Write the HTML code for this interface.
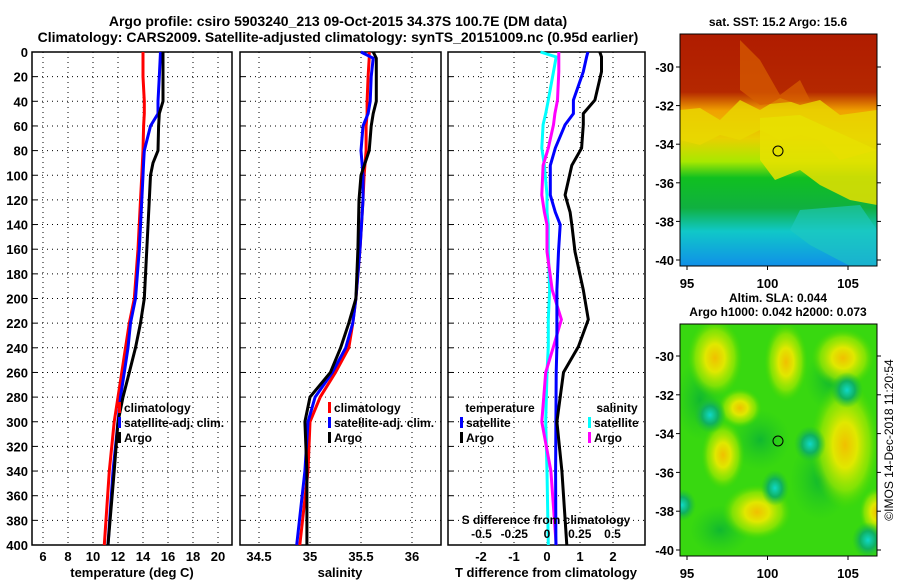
<!DOCTYPE html>
<html><head><meta charset="utf-8"><style>
body{margin:0;background:#fff;}
svg{display:block;font-family:"Liberation Sans",sans-serif;font-weight:bold;}
</style></head><body>
<svg id="c" width="900" height="580" viewBox="0 0 900 580">
<defs>
<linearGradient id="sstg" x1="0" y1="0" x2="0" y2="1">
<stop offset="0" stop-color="#b01c00"/><stop offset="0.25" stop-color="#b52800"/>
<stop offset="0.33" stop-color="#f0a000"/><stop offset="0.45" stop-color="#e8d000"/>
<stop offset="0.55" stop-color="#a8e800"/><stop offset="0.62" stop-color="#10c020"/>
<stop offset="0.75" stop-color="#10b040"/><stop offset="0.85" stop-color="#10c8c8"/>
<stop offset="1" stop-color="#1090e8"/></linearGradient>
<radialGradient id="yb"><stop offset="0" stop-color="#f0c000"/><stop offset="0.35" stop-color="#e0e800"/><stop offset="0.7" stop-color="#a0e800" stop-opacity="0.7"/><stop offset="1" stop-color="#40d800" stop-opacity="0"/></radialGradient>
<radialGradient id="tb"><stop offset="0" stop-color="#10d8c8"/><stop offset="0.5" stop-color="#10b060"/><stop offset="1" stop-color="#20c030" stop-opacity="0"/></radialGradient>
<radialGradient id="gb"><stop offset="0" stop-color="#10b830"/><stop offset="1" stop-color="#20c820" stop-opacity="0"/></radialGradient>
<clipPath id="m1c"><rect x="680" y="34" width="197" height="232"/></clipPath>
<clipPath id="m2c"><rect x="680" y="324" width="197" height="232"/></clipPath>
</defs>
<text x="338" y="26" font-size="14" text-anchor="middle">Argo profile: csiro 5903240_213 09-Oct-2015 34.37S 100.7E (DM data)</text>
<text x="338" y="42" font-size="14" text-anchor="middle">Climatology: CARS2009. Satellite-adjusted climatology: synTS_20151009.nc (0.95d earlier)</text>
<g id="p1"></g>
<g id="p2"></g>
<g id="p3"></g>
<g id="m1">
<text x="778" y="26" font-size="12" text-anchor="middle">sat. SST: 15.2 Argo: 15.6</text>
<g clip-path="url(#m1c)">
<rect x="680" y="34" width="197" height="232" fill="url(#sstg)"/>
<path d="M680,110 L700,108 L720,120 L740,100 L760,110 L780,98 L800,105 L820,100 L840,115 L877,110 L877,150 L840,160 L820,140 L800,135 L780,140 L760,130 L740,140 L720,135 L700,145 L680,140Z" fill="#e8d800" opacity="0.8"/>
<path d="M740,40 L760,60 L780,95 L800,80 L810,100 L760,105 L740,90Z" fill="#d86000" opacity="0.7"/>
<path d="M760,118 L800,115 L877,150 L877,205 L850,200 L820,185 L800,170 L775,180 L760,160Z" fill="#e8e000" opacity="0.85"/>
<path d="M800,210 L860,205 L877,230 L877,266 L850,266 L810,245 L790,230Z" fill="#20c8c0" opacity="0.6"/>
</g>
<rect x="680" y="34" width="197" height="232" fill="none" stroke="#000"/>
<circle cx="778" cy="151" r="5" fill="none" stroke="#000"/>
</g>
<g id="m2">
<text x="778" y="302" font-size="12" text-anchor="middle">Altim. SLA: 0.044</text>
<text x="778" y="316" font-size="12" text-anchor="middle">Argo h1000: 0.042 h2000: 0.073</text>
<g clip-path="url(#m2c)">
<rect x="680" y="324" width="197" height="232" fill="#38d810"/>
<ellipse cx="700" cy="400" rx="25" ry="40" fill="url(#gb)"/>
<ellipse cx="760" cy="440" rx="30" ry="30" fill="url(#gb)"/>
<ellipse cx="820" cy="480" rx="30" ry="40" fill="url(#gb)"/>
<ellipse cx="720" cy="530" rx="30" ry="25" fill="url(#gb)"/>
<ellipse cx="830" cy="380" rx="25" ry="30" fill="url(#gb)"/>
<ellipse cx="715" cy="358" rx="28" ry="40" fill="url(#yb)"/>
<ellipse cx="786" cy="362" rx="22" ry="40" fill="url(#yb)"/>
<ellipse cx="843" cy="358" rx="32" ry="30" fill="url(#yb)"/>
<ellipse cx="740" cy="408" rx="22" ry="20" fill="url(#yb)"/>
<ellipse cx="723" cy="455" rx="22" ry="35" fill="url(#yb)"/>
<ellipse cx="845" cy="445" rx="35" ry="65" fill="url(#yb)"/>
<ellipse cx="757" cy="512" rx="35" ry="28" fill="url(#yb)"/>
<ellipse cx="877" cy="512" rx="18" ry="25" fill="url(#yb)"/>
<ellipse cx="710" cy="415" rx="16" ry="18" fill="url(#tb)"/>
<ellipse cx="847" cy="390" rx="16" ry="18" fill="url(#tb)"/>
<ellipse cx="810" cy="444" rx="16" ry="18" fill="url(#tb)"/>
<ellipse cx="775" cy="488" rx="14" ry="18" fill="url(#tb)"/>
<ellipse cx="682" cy="505" rx="14" ry="16" fill="url(#tb)"/>
<ellipse cx="868" cy="540" rx="16" ry="18" fill="url(#tb)"/>
</g>
<rect x="680" y="324" width="197" height="232" fill="none" stroke="#000"/>
<circle cx="778" cy="441" r="5" fill="none" stroke="#000"/>
</g>
<text transform="translate(893,440) rotate(-90)" font-size="12" font-weight="normal" text-anchor="middle">©IMOS 14-Dec-2018 11:20:54</text>
</svg>
<script>
// depth levels (m)
const depthTicks=[0,20,40,60,80,100,120,140,160,180,200,220,240,260,280,300,320,340,360,380,400];
// temperature profiles
const tDepth=[0,20,40,50,60,80,90,100,120,160,200,220,240,260,280,300,340,400];
const tClim=[14.0,14.0,14.1,14.1,14.05,14.0,13.95,13.9,13.8,13.6,13.3,12.9,12.6,12.3,12.0,11.7,11.3,10.9];
const tSat=[15.4,15.3,15.2,15.2,14.6,14.1,14.05,14.0,13.9,13.7,13.4,13.0,12.8,12.5,12.2,12.0,11.6,11.2];
const tArgo=[15.6,15.6,15.6,15.3,15.25,15.2,14.8,14.6,14.5,14.3,14.1,13.8,13.4,12.9,12.4,12.0,11.7,11.2];
const tTicks=[6,8,10,12,14,16,18,20];
// salinity profiles
const sDepth=[0,5,20,40,50,60,80,100,120,160,200,220,240,260,280,300,340,400];
const sClim=[35.58,35.58,35.57,35.56,35.56,35.55,35.55,35.53,35.52,35.49,35.45,35.42,35.38,35.25,35.10,35.00,34.98,34.90];
const sSat=[35.50,35.62,35.60,35.59,35.57,35.52,35.50,35.52,35.52,35.49,35.45,35.42,35.35,35.22,35.05,34.98,34.95,34.87];
const sArgo=[35.62,35.65,35.65,35.65,35.62,35.60,35.58,35.50,35.48,35.47,35.45,35.38,35.30,35.20,35.00,34.95,34.97,34.97];
const sTicks=[34.5,35,35.5,36];
// difference profiles
const dDepth=[0,4,16,39,50,59,78,92,116,130,140,162,193,217,239,260,300,340,400];
const dTSat=[1.24,1.2,1.1,0.8,0.8,0.55,0.25,0.1,0.1,0.25,0.4,0.35,0.3,0.3,0.3,0.28,0.27,0.26,0.27];
const dTArgo=[1.6,1.65,1.65,1.45,1.1,1.1,1.05,0.75,0.55,0.7,0.75,0.85,1.1,1.25,0.95,0.5,0.3,0.45,0.6];
const dSSat=[-0.05,0.07,0.05,0.01,-0.01,-0.03,-0.04,-0.02,0,0,0.01,0.01,0.02,0.01,0.01,0,-0.01,0,0.01];
const dSArgo=[0.09,0.09,0.09,0.08,0.06,0.05,0.01,-0.03,-0.04,-0.02,0,0,0.04,0.11,0.05,-0.01,-0.04,0.03,0.07];
const dTTicks=[-2,-1,0,1,2];
const dSTicks=["-0.5","-0.25","0","0.25","0.5"];

const NS='http://www.w3.org/2000/svg';
const Y0=52,Y1=545;
function yD(d){return Y0+(Y1-Y0)*d/400;}
function mk(tag,parent,attrs){const e=document.createElementNS(NS,tag);for(const k in attrs)e.setAttribute(k,attrs[k]);parent.appendChild(e);return e;}
function txt(parent,x,y,s,anchor,size){const t=mk('text',parent,{x:x,y:y,'font-size':size||12,'text-anchor':anchor||'middle'});t.textContent=s;return t;}

function panel(g,x0,x1,xf,ticks,vals,labelYAxis){
  ticks.forEach(v=>{const l=mk('line',g,{x1:xf(v),x2:xf(v),y1:Y0,y2:Y1,stroke:'#000','stroke-dasharray':'1,4'});
    
    });
  depthTicks.forEach(d=>{if(d==0||d==400)return;const l=mk('line',g,{x1:x0,x2:x1,y1:yD(d),y2:yD(d),stroke:'#000','stroke-dasharray':'1,4'});
    
    });
  const r=mk('rect',g,{x:x0,y:Y0,width:x1-x0,height:Y1-Y0,fill:'none',stroke:'#000','stroke-width':1.5});
  
  
  depthTicks.forEach(d=>{mk('line',g,{x1:x0,x2:x0+5,y1:yD(d),y2:yD(d),stroke:'#000'});
    if(labelYAxis){const t=txt(g,x0-4,yD(d)+5,String(d),'end',13);
      
      }});
}
function line(g,xf,xs,ds,color,name){
  const pts=xs.map((v,i)=>xf(v).toFixed(1)+','+yD(ds[i]).toFixed(1)).join(' ');
  const p=mk('polyline',g,{points:pts,fill:'none',stroke:color,'stroke-width':3});
  
  
}
function legend(g,x,y,items){
  items.forEach((it,i)=>{const yy=y+i*15;
    mk('rect',g,{x:x,y:yy-10,width:3,height:11,fill:it[1]});
    const t=txt(g,x+6,yy,it[0],'start',12);
    
    });
}
const p1=document.getElementById('p1');
const xT=v=>43+(v-6)*12.5;
panel(p1,32,232,xT,tTicks,null,true);
line(p1,xT,tClim,tDepth,'#ff0000','temp-climatology-line');
line(p1,xT,tSat,tDepth,'#0000ff','temp-satellite-line');
line(p1,xT,tArgo,tDepth,'#000000','temp-argo-line');
tTicks.forEach(v=>{const t=txt(p1,xT(v),561,String(v),'middle',13);
  
  });
let t1=txt(p1,132,577,'temperature (deg C)','middle',13);


legend(p1,118,412,[['climatology','#ff0000'],['satellite-adj. clim.','#0000ff'],['Argo','#000000']]);
const p2=document.getElementById('p2');
const xS=v=>310+(v-35)*102;
panel(p2,240,441,xS,sTicks,null,false);
line(p2,xS,sClim,sDepth,'#ff0000','sal-climatology-line');
line(p2,xS,sSat,sDepth,'#0000ff','sal-satellite-line');
line(p2,xS,sArgo,sDepth,'#000000','sal-argo-line');
sTicks.forEach(v=>{const t=txt(p2,xS(v),561,String(v),'middle',13);
  
  });
let t2=txt(p2,340,577,'salinity','middle',13);


legend(p2,328,412,[['climatology','#ff0000'],['satellite-adj. clim.','#0000ff'],['Argo','#000000']]);
const p3=document.getElementById('p3');
const xDT=v=>547+v*33;
const xDS=v=>547+v*131;
panel(p3,448,645,xDT,dTTicks,null,false);
line(p3,xDS,dSSat,dDepth,'#00ffff','sal-diff-satellite-line');
line(p3,xDS,dSArgo,dDepth,'#ff00ff','sal-diff-argo-line');
line(p3,xDT,dTSat,dDepth,'#0000ff','temp-diff-satellite-line');
line(p3,xDT,dTArgo,dDepth,'#000000','temp-diff-argo-line');
dTTicks.forEach(v=>{const t=txt(p3,xDT(v),561,String(v),'middle',13);
  
  });
dSTicks.forEach(v=>{const t=txt(p3,xDS(parseFloat(v)),538,v,'middle',12);
  
  });
let t3=txt(p3,546,524,'S difference from climatology','middle',12);


let t4=txt(p3,546,577,'T difference from climatology','middle',13);


let t5=txt(p3,500,412,'temperature','middle',12);


legend(p3,460,427,[['satellite','#0000ff'],['Argo','#000000']]);
let t6=txt(p3,617,412,'salinity','middle',12);


legend(p3,588,427,[['satellite','#00ffff'],['Argo','#ff00ff']]);
function mapAxes(id,top,lat30,lat40){
  const g=document.getElementById(id);
  const lats=[-30,-32,-34,-36,-38,-40];
  lats.forEach(l=>{const y=lat30+(l+30)/-10*(lat40-lat30);
    mk('line',g,{x1:680,x2:676,y1:y,y2:y,stroke:'#000'});
    mk('line',g,{x1:877,x2:881,y1:y,y2:y,stroke:'#000'});
    const t=txt(g,674,y+5,String(l),'end',13);
    
    });
  [95,100,105].forEach(lo=>{const x=687+(lo-95)*16.1;
    mk('line',g,{x1:x,x2:x,y1:top+232,y2:top+236,stroke:'#000'});
    const t=txt(g,x,top+254,String(lo),'middle',13);
    
    });
}
mapAxes('m1',34,67,260);
mapAxes('m2',324,356,550);
</script>
</body></html>
